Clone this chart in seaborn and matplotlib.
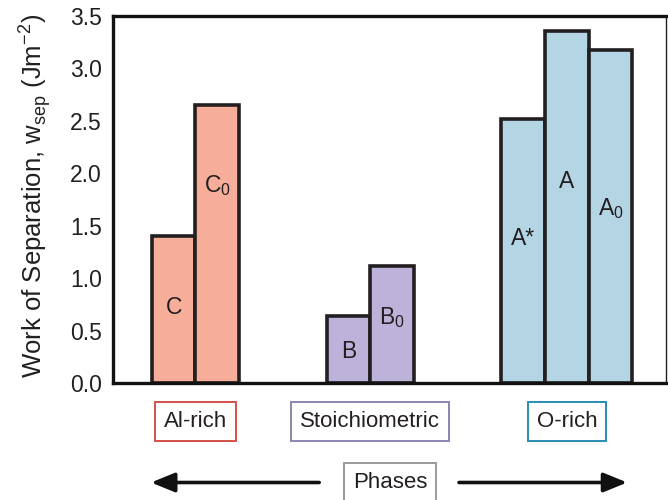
import matplotlib
matplotlib.use("Agg")
import matplotlib.pyplot as plt
import seaborn as sns
import pandas as pd

# bar data
labels = ["C", "C0", "B", "B0", "A*", "A", "A0"]
phases = ["Al-rich", "Al-rich", "Stoichiometric", "Stoichiometric", "O-rich", "O-rich", "O-rich"]
w_sep = [1.40, 2.65, 0.64, 1.12, 2.52, 3.36, 3.18]
# where the bar label sits (in Jm^-2)
label_y = [0.72, 1.88, 0.30, 0.62, 1.38, 1.92, 1.66]
label_text = ["C", r"C$_\mathregular{0}$", "B", r"B$_\mathregular{0}$", "A*", "A", r"A$_\mathregular{0}$"]

group_names = ["Al-rich", "Stoichiometric", "O-rich"]
bar_colors = {"Al-rich": "#F6AE9A", "Stoichiometric": "#BDB3DA", "O-rich": "#B4D6E4"}
box_colors = {"Al-rich": "#D6504A", "Stoichiometric": "#8D84B3", "O-rich": "#2A8CB5"}

df = pd.DataFrame({"label": labels, "phase": phases, "w_sep": w_sep})

# empty slots give the gaps between the phase groups
order = [" ", "C", "C0", "  ", "   ", "B", "B0", "    ", "     ", "A*", "A", "A0"]

sns.set_style("white")
plt.rcParams["font.family"] = ["Liberation Sans", "DejaVu Sans"]
plt.rcParams["mathtext.fontset"] = "custom"
plt.rcParams["mathtext.rm"] = "Liberation Sans"

fig = plt.figure(figsize=(6.68, 5.0), dpi=100)
ax = fig.add_axes([0.169, 0.234, 0.828, 0.734])

sns.barplot(data=df, x="label", y="w_sep", hue="phase", order=order,
            palette=bar_colors, saturation=1, dodge=False, width=1.0, legend=False,
            edgecolor="#231F20", linewidth=2.6, ax=ax, zorder=2)

pos = {name: i for i, name in enumerate(order)}
for lab, ty, txt in zip(labels, label_y, label_text):
    ax.text(pos[lab], ty, txt, ha="center", va="center", fontsize=16.5, color="#231F20")

ax.set_xlim(-0.39, 12.27)
ax.set_ylim(0, 3.5)
ax.set_yticks([0, 0.5, 1.0, 1.5, 2.0, 2.5, 3.0, 3.5])
ax.set_yticklabels(["0.0", "0.5", "1.0", "1.5", "2.0", "2.5", "3.0", "3.5"])
ax.tick_params(axis="y", direction="in", length=7, width=2.2, labelsize=16.5,
               pad=8, colors="#231F20")
ax.tick_params(axis="x", bottom=False, labelbottom=False)
ax.set_xlabel("")
ax.set_ylabel(r"Work of Separation, w$_\mathregular{sep}$ (Jm$^\mathregular{-2}$)",
              fontsize=18.5, color="#231F20")
ax.yaxis.set_label_coords(-0.108, 0.51)

for side in ["left", "bottom", "top"]:
    ax.spines[side].set_linewidth(2.4)
    ax.spines[side].set_color("#111111")
ax.spines["right"].set_linewidth(1.0)
ax.spines["right"].set_color("#222222")

# boxed phase names under each group
for g in group_names:
    xs = [pos[l] for l, p in zip(labels, phases) if p == g]
    xc = (min(xs) + max(xs)) / 2
    ax.text(xc, -0.104, g, transform=ax.get_xaxis_transform(), ha="center", va="center",
            fontsize=16, color="#231F20",
            bbox=dict(boxstyle="square,pad=0.4", fc="white", ec=box_colors[g], lw=1.4))

# "Phases" with arrows
fig.text(0.584, 0.035, "Phases", ha="center", va="center", fontsize=16, color="#231F20",
         bbox=dict(boxstyle="square,pad=0.4", fc="white", ec="#9A9A9A", lw=1.4))
arrow = dict(arrowstyle="-|>,head_length=1.1,head_width=0.45", lw=2.6, color="#111111")
fig.add_artist(matplotlib.patches.FancyArrowPatch((0.482, 0.035), (0.222, 0.035),
               transform=fig.transFigure, **arrow, mutation_scale=13))
fig.add_artist(matplotlib.patches.FancyArrowPatch((0.683, 0.035), (0.943, 0.035),
               transform=fig.transFigure, **arrow, mutation_scale=13))

fig.savefig("out.png", dpi=100)
